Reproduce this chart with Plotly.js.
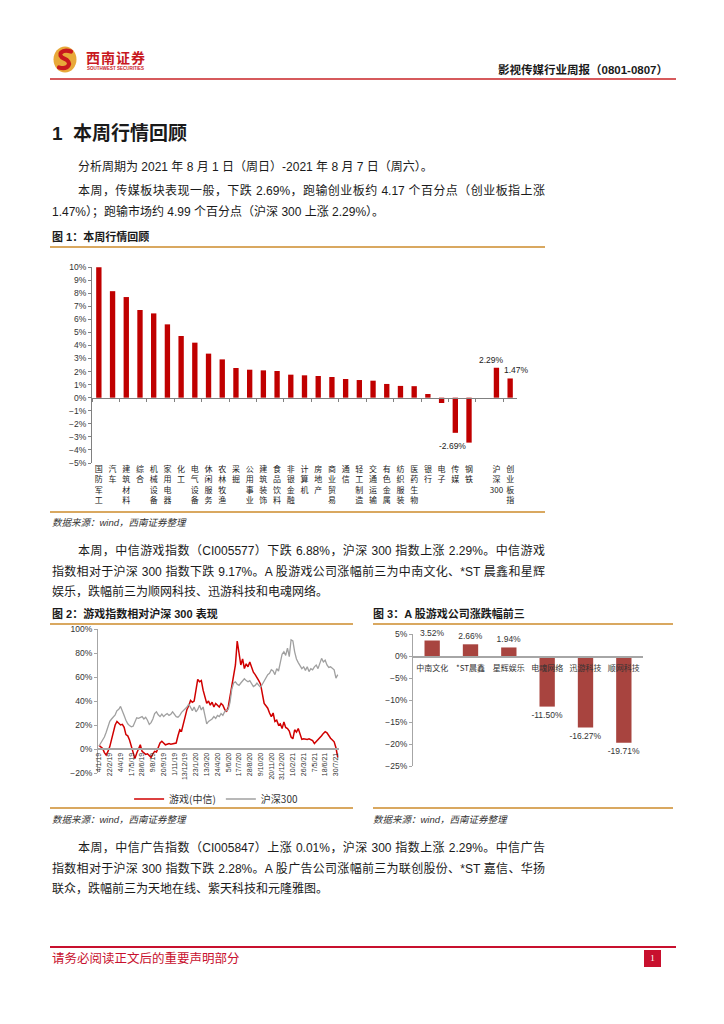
<!DOCTYPE html>
<html><head><meta charset="utf-8">
<script src="https://cdn.plot.ly/plotly-3.0.1.min.js"></script>
<style>
body{margin:0;background:#fff;}
#page{position:relative;width:724px;height:1024px;overflow:hidden;font-family:"Liberation Sans","Noto Sans CJK SC",sans-serif;color:#1a1a1a;}
.t{position:absolute;font-size:12px;line-height:20px;white-space:nowrap;}
.j{white-space:normal;text-align:justify;text-align-last:justify;}
.hr{position:absolute;height:2px;background:#D9A860;}
.src{position:absolute;font-size:9.5px;font-style:italic;color:#333;line-height:14px;white-space:nowrap;}
.cap{position:absolute;font-size:11px;font-weight:bold;line-height:16px;white-space:nowrap;}
.plot{position:absolute;}
</style></head>
<body><div id="page">
<!-- header -->
<svg style="position:absolute;left:53px;top:46px" width="24" height="27" viewBox="0 0 24 27">
<ellipse cx="12" cy="13.5" rx="11.5" ry="13" fill="#E8A93A"/>
<path d="M18 5.5 C 9 2.5, 3 9, 11 12.5 C 20 16, 16 24, 6 21.5" stroke="#C8191E" stroke-width="4.2" fill="none" stroke-linecap="round"/>
</svg>
<div style="position:absolute;left:86px;top:49px;font-size:14px;font-weight:bold;color:#C8191E;letter-spacing:1px;font-family:'Noto Sans CJK SC';line-height:16px;">西南证券</div>
<div style="position:absolute;left:87px;top:66px;font-size:4.5px;font-weight:bold;color:#C8191E;line-height:6px;white-space:nowrap;">SOUTHWEST SECURITIES</div>
<div style="position:absolute;right:56px;top:62px;font-size:11.5px;font-weight:bold;line-height:16px;white-space:nowrap;">影视传媒行业周报（0801-0807）</div>
<div style="position:absolute;left:50px;top:78px;width:626px;height:2px;background:#D65A5C;"></div>

<div style="position:absolute;left:52px;top:122px;font-size:19px;font-weight:bold;line-height:24px;white-space:nowrap;">1&nbsp;&nbsp;本周行情回顾</div>
<div class="t" style="left:78px;top:157px;">分析周期为 2021 年 8 月 1 日（周日）-2021 年 8 月 7 日（周六）。</div>
<div class="t j" style="left:78px;top:181px;width:467px;">本周，传媒板块表现一般，下跌 2.69%，跑输创业板约 4.17 个百分点（创业板指上涨</div>
<div class="t" style="left:52px;top:202px;">1.47%）；跑输市场约 4.99 个百分点（沪深 300 上涨 2.29%）。</div>

<div class="cap" style="left:52px;top:229px;">图 1：本周行情回顾</div>
<div class="hr" style="left:50px;top:246px;width:495px;"></div>
<div id="c1" class="plot" style="left:50px;top:250px;width:500px;height:260px;"></div>
<div class="hr" style="left:50px;top:511px;width:495px;"></div>
<div class="src" style="left:52px;top:516px;">数据来源：wind，西南证券整理</div>

<div class="t j" style="left:78px;top:541px;width:467px;">本周，中信游戏指数（CI005577）下跌 6.88%，沪深 300 指数上涨 2.29%。中信游戏</div>
<div class="t j" style="left:52px;top:562px;width:493px;">指数相对于沪深 300 指数下跌 9.17%。A 股游戏公司涨幅前三为中南文化、*ST 晨鑫和星辉</div>
<div class="t" style="left:52px;top:582px;">娱乐，跌幅前三为顺网科技、迅游科技和电魂网络。</div>

<div class="cap" style="left:52px;top:606px;">图 2：游戏指数相对沪深 300 表现</div>
<div class="cap" style="left:373px;top:606px;">图 3：A 股游戏公司涨跌幅前三</div>
<div class="hr" style="left:50px;top:623px;width:303px;"></div>
<div class="hr" style="left:373px;top:623px;width:300px;"></div>
<div id="c2" class="plot" style="left:50px;top:620px;width:305px;height:190px;"></div>
<div id="c3" class="plot" style="left:360px;top:625px;width:320px;height:185px;"></div>
<div class="hr" style="left:50px;top:807px;width:303px;"></div>
<div class="hr" style="left:373px;top:807px;width:300px;"></div>
<div class="src" style="left:52px;top:813px;">数据来源：wind，西南证券整理</div>
<div class="src" style="left:373px;top:813px;">数据来源：wind，西南证券整理</div>

<div class="t j" style="left:78px;top:838px;width:467px;">本周，中信广告指数（CI005847）上涨 0.01%，沪深 300 指数上涨 2.29%。中信广告</div>
<div class="t j" style="left:52px;top:859px;width:493px;">指数相对于沪深 300 指数下跌 2.28%。A 股广告公司涨幅前三为联创股份、*ST 嘉信、华扬</div>
<div class="t" style="left:52px;top:879px;">联众，跌幅前三为天地在线、紫天科技和元隆雅图。</div>

<div style="position:absolute;left:50px;top:946px;width:626px;height:1.5px;background:#C8102E;"></div>
<div style="position:absolute;left:52px;top:951px;font-size:12.5px;color:#C8102E;line-height:16px;white-space:nowrap;">请务必阅读正文后的重要声明部分</div>
<div style="position:absolute;left:644px;top:950px;width:17px;height:17px;background:#C8102E;color:#fff;font-size:9px;line-height:17px;text-align:center;font-family:'Liberation Serif';">1</div>
</div>

<script>
// ---------- Figure 1 data ----------
const industryNames = ['国防军工','汽车','建筑材料','综合','机械设备','家用电器','化工','电气设备','休闲服务','农林牧渔','采掘','公用事业','建筑装饰','食品饮料','非银金融','计算机','房地产','商业贸易','通信','轻工制造','交通运输','有色金属','纺织服装','医药生物','银行','电子','传媒','钢铁'];
const industryReturns = [9.98,8.15,7.70,6.71,6.45,5.61,4.72,4.21,3.37,2.93,2.27,2.14,2.09,2.04,1.76,1.71,1.66,1.58,1.43,1.35,1.30,1.05,0.90,0.88,0.28,-0.41,-2.69,-3.44];
const indexNames = ['沪深300','创业板指'];
const indexReturns = [2.29,1.47];
const labeledNames = ['传媒','沪深300','创业板指'];

// ---------- Figure 2 data (weekly) ----------
const gameIndex = [3,2,0.5,-3,-5,-2,2,8,15,20,
 23,21,20,20.5,18,12,11,7.5,2,-3.5,
 -8,-3.5,0.5,3.5,-2,-3.5,-4.5,-4,-5.5,-7,
 -4,-2,-2.5,2,5,6.5,4.5,3.5,4,4.5,
 4,4.2,4.7,5,11,16,15,22,27,33,
 36,40.5,39,40,47.5,58,56,57,49,44,
 38,40,36.5,39,35,38,36,35,38,36.5,
 33,31,35,43,54,60,70,90,78,70,
 75,67,71,68.5,72.5,68,64,62,60,57,
 54,45,38,36,34,30,27,30,23,24,
 20,21,17,22.5,18,17,15,10,8.5,16,
 14,17,13,8,8.5,8,8,8.5,8,7,
 4.5,6,7.5,9,11,13,14.5,13.5,11,9,
 7.5,6,1,-7];
const hs300 = [2.5,5,7,10,14,19.5,23,25,27,28.5,
 32,33,35.5,31,28,24,21,19.5,18.5,19,
 22.5,26,25.5,26.5,27,25,26.5,24,20.5,22,
 25,29.5,31,28.5,27,29,27,28.5,29.5,28,
 29,31,29,27,26.5,28,30.5,32,33.5,35,
 37.5,35,32,35,31,33,36.5,32.5,35,28,
 21,23,24,25,27,25.5,28,27,29.5,28,
 31,32,33,39,50,55,56,54,53,55,
 56.5,58.5,57,56,57,54,52,53,55,53,
 51.5,54,57,60,62,63,66,65,62,67,
 65,72,79,81,78,84,77,91,90,81,
 75,72,70,67,68.5,65.5,68.5,64.5,67,66,
 68.5,70,67,72,75.5,72.5,74,70,68,68.5,
 67,66,59,62];
const dateTicks = ['4/1/19','22/2/19','4/4/19','17/5/19','28/6/19','9/8/19','20/9/19','1/11/19','13/12/19','23/1/20','13/3/20','24/4/20','5/6/20','17/7/20','28/8/20','9/10/20','20/11/20','31/12/20','10/2/21','26/3/21','7/5/21','18/6/21','30/7/21'];
const seriesNames = ['游戏(中信)','沪深300'];

// ---------- Figure 3 data ----------
const gameCompanies = ['中南文化','*ST晨鑫','星辉娱乐','电魂网络','迅游科技','顺网科技'];
const companyReturns = [3.52,2.66,1.94,-11.50,-16.27,-19.71];

const CJK = 'Noto Sans CJK SC';
const LAT = 'Liberation Sans, Noto Sans CJK SC';
const cfg = {staticPlot:true, displayModeBar:false};
const pct = v => v.toFixed(2) + '%';

// ===== Figure 1 =====
const cats1 = industryNames.concat([' '], indexNames);
const vals1 = industryReturns.concat([null], indexReturns);
// stack CJK characters vertically; keep digit runs together on one line
const stackText = s => s.trim() ? s.match(/\d+|./g).join('<br>') : '';
const shifts = {'传媒':{xs:-3,ys:-6,ya:'top'}, '沪深300':{xs:-5,ys:1,ya:'bottom'}, '创业板指':{xs:6,ys:1,ya:'bottom'}};
Plotly.newPlot('c1', [
  {type:'bar', x:cats1, y:vals1, marker:{color:'#C00000'}, xaxis:'x', yaxis:'y', hoverinfo:'skip'},
  {type:'scatter', mode:'markers', x:cats1, y:vals1, marker:{opacity:0}, xaxis:'x2', yaxis:'y', hoverinfo:'skip', showlegend:false}
], {
  width:500, height:260, margin:{l:42,r:33,t:17,b:47},
  paper_bgcolor:'rgba(0,0,0,0)', plot_bgcolor:'rgba(0,0,0,0)',
  showlegend:false, bargap:0.61,
  font:{family:LAT, size:8.5, color:'#333'},
  xaxis:{type:'category', range:[-0.5,30.5], anchor:'free', position:5/15, showline:true, linecolor:'#808080', linewidth:1,
    ticks:'outside', ticklen:3, tickcolor:'#808080', tickson:'boundaries', showticklabels:false, showgrid:false, zeroline:false},
  xaxis2:{type:'category', overlaying:'x', range:[-0.5,30.5], anchor:'y', side:'bottom', showline:false, ticks:'',
    tickmode:'array', tickvals:cats1, ticktext:cats1.map(stackText), tickangle:0,
    tickfont:{family:CJK, size:8, color:'#222'}, showgrid:false, zeroline:false},
  yaxis:{range:[-5,10], dtick:1, tick0:0, ticksuffix:'%', showline:true, linecolor:'#808080', linewidth:1,
    ticks:'outside', ticklen:3, tickcolor:'#808080', showgrid:false, zeroline:false, tickfont:{family:LAT, size:8.5, color:'#333'}},
  annotations: labeledNames.map(n => {
    const v = vals1[cats1.indexOf(n)], s = shifts[n];
    return {x:n, y:v, xref:'x', yref:'y', text:pct(v), showarrow:false, xanchor:'center', yanchor:s.ya,
      xshift:s.xs, yshift:s.ys, font:{family:LAT, size:8.5, color:'#222'}};
  })
}, cfg);

// ===== Figure 2 =====
const idx = gameIndex.map((_, i) => i);
Plotly.newPlot('c2', [
  {type:'scatter', mode:'lines', name:seriesNames[0], x:idx, y:gameIndex, line:{color:'#D00000', width:1.5}},
  {type:'scatter', mode:'lines', name:seriesNames[1], x:idx, y:hs300, line:{color:'#A0A0A0', width:1.3}}
], {
  width:305, height:190, margin:{l:48,r:16,t:9,b:37},
  paper_bgcolor:'rgba(0,0,0,0)', plot_bgcolor:'rgba(0,0,0,0)',
  font:{family:LAT, size:8.5, color:'#333'},
  showlegend:true,
  legend:{orientation:'h', x:0.49, xanchor:'center', xref:'paper', yref:'container', y:0.058, yanchor:'middle',
    font:{family:CJK, size:10, color:'#333'}, itemwidth:30, traceorder:'normal', bgcolor:'rgba(0,0,0,0)'},
  xaxis:{range:[-0.56,133.7], anchor:'free', position:20/120, showline:true, linecolor:'#A6A6A6', linewidth:2,
    ticks:'', tickmode:'array', tickvals:dateTicks.map((_, k) => k*6), ticktext:dateTicks, tickangle:-90,
    tickfont:{family:LAT, size:7, color:'#333'}, showgrid:false, zeroline:false, automargin:false},
  yaxis:{range:[-20,100], dtick:20, tick0:0, ticksuffix:'%', showline:true, linecolor:'#A6A6A6', linewidth:1,
    ticks:'outside', ticklen:3, tickcolor:'#A6A6A6', showgrid:false, zeroline:false, tickfont:{family:LAT, size:8.5, color:'#333'}, automargin:false}
}, cfg);

// ===== Figure 3 =====
Plotly.newPlot('c3', [
  {type:'bar', x:gameCompanies, y:companyReturns, marker:{color:'#A8443F'}, text:companyReturns.map(pct),
   textposition:'outside', constraintext:'none', cliponaxis:false, textfont:{family:LAT, size:8.5, color:'#333'}, hoverinfo:'skip'}
], {
  width:320, height:185, margin:{l:53,r:37,t:9,b:44},
  paper_bgcolor:'rgba(0,0,0,0)', plot_bgcolor:'rgba(0,0,0,0)',
  showlegend:false, bargap:0.6, uniformtext:{mode:false},
  font:{family:LAT, size:8.5, color:'#333'},
  xaxis:{type:'category', range:[-0.5,5.5], anchor:'free', position:25/30, showline:true, linecolor:'#A6A6A6', linewidth:1.5,
    ticks:'', ticklabelstandoff:4, tickfont:{family:CJK, size:8, color:'#333'}, showgrid:false, zeroline:false, tickangle:0},
  yaxis:{range:[-25,5], dtick:5, tick0:0, ticksuffix:'%', showline:true, linecolor:'#A6A6A6', linewidth:1,
    ticks:'outside', ticklen:3, tickcolor:'#A6A6A6', showgrid:false, zeroline:false, tickfont:{family:LAT, size:8.5, color:'#333'}}
}, cfg);
</script>
</body></html>
